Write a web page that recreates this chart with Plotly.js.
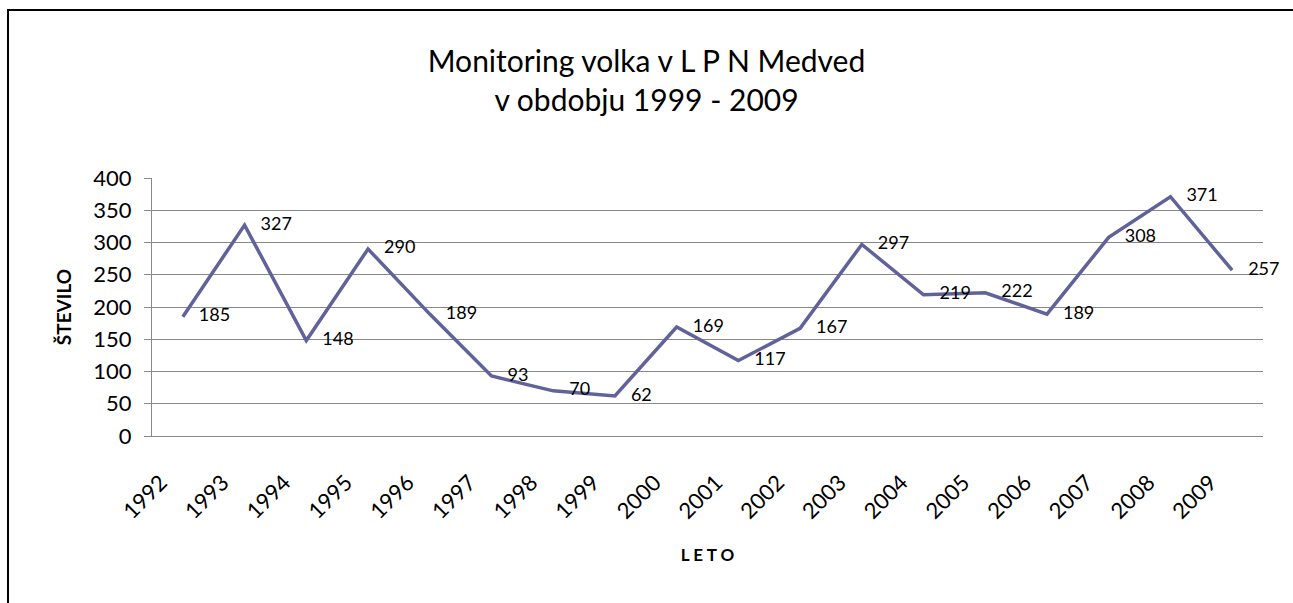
<!DOCTYPE html>
<html>
<head>
<meta charset="utf-8">
<script src="https://cdn.plot.ly/plotly-3.0.1.min.js"></script>
<style>
  html, body { margin: 0; padding: 0; background: #fff; }
  #wrap { position: relative; width: 1293px; height: 603px; }
  #chart { position: absolute; left: 0; top: 0; width: 1293px; height: 603px; }
  #frame { position: absolute; left: 7px; top: 9px; width: 1300px; height: 700px;
           border-left: 2px solid #000; border-top: 2px solid #000; pointer-events: none; z-index: 5; }
</style>
</head>
<body>
<div id="wrap">
  <div id="chart"></div>
  <div id="frame"></div>
</div>
<script>
const years = ["1992","1993","1994","1995","1996","1997","1998","1999","2000","2001","2002","2003","2004","2005","2006","2007","2008","2009"];
const counts = [185, 327, 148, 290, 189, 93, 70, 62, 169, 117, 167, 297, 219, 222, 189, 308, 371, 257];
const yTicks = [0, 50, 100, 150, 200, 250, 300, 350, 400];

const FONT = "Lato, 'Open Sans', 'DejaVu Sans', sans-serif";

const trace = {
  type: 'scatter',
  mode: 'lines+markers+text',
  x: years,
  y: counts,
  text: counts.map(String),
  textposition: 'middle right',
  textfont: { family: FONT, size: 18, color: '#000' },
  line: { color: '#62629a', width: 3.5 },
  marker: { size: 24, color: 'rgba(0,0,0,0)' },
  hoverinfo: 'x+y',
  cliponaxis: false,
  showlegend: false
};

const layout = {
  width: 1293,
  height: 603,
  margin: { l: 152, r: 30, t: 178, b: 167 },
  paper_bgcolor: '#fff',
  plot_bgcolor: '#fff',
  font: { family: FONT, color: '#000' },
  title: {
    text: 'Monitoring volka v L P N Medved<br>v obdobju 1999 - 2009',
    font: { family: FONT, size: 30, color: '#000' },
    x: 0.5, xanchor: 'center',
    yref: 'container', y: 0.88, yanchor: 'top'
  },
  xaxis: {
    type: 'category',
    categoryorder: 'array',
    categoryarray: years,
    range: [-0.5, years.length - 0.5],
    tickangle: -45,
    tickfont: { family: FONT, size: 22, color: '#000' },
    ticklabelstandoff: 24,
    ticklabelshift: -22,
    showgrid: false,
    showline: true,
    linecolor: '#888',
    linewidth: 1,
    ticks: '',
    zeroline: false,
    title: { text: 'L E T O', font: { family: FONT, size: 17, color: '#000', weight: 'bold' }, standoff: 26 }
  },
  yaxis: {
    range: [0, 400],
    tickvals: yTicks,
    ticktext: yTicks.map(String),
    tickfont: { family: FONT, size: 22, color: '#000' },
    showgrid: true,
    gridcolor: '#888',
    gridwidth: 1,
    showline: true,
    linecolor: '#888',
    linewidth: 1,
    ticks: 'outside',
    ticklen: 7,
    tickcolor: '#888',
    ticklabelstandoff: 8,
    zeroline: false,
    title: { text: 'ŠTEVILO', font: { family: FONT, size: 19, color: '#000', weight: 'bold' }, standoff: 16 }
  }
};

Plotly.newPlot('chart', [trace], layout, { displayModeBar: false });
</script>
</body>
</html>
